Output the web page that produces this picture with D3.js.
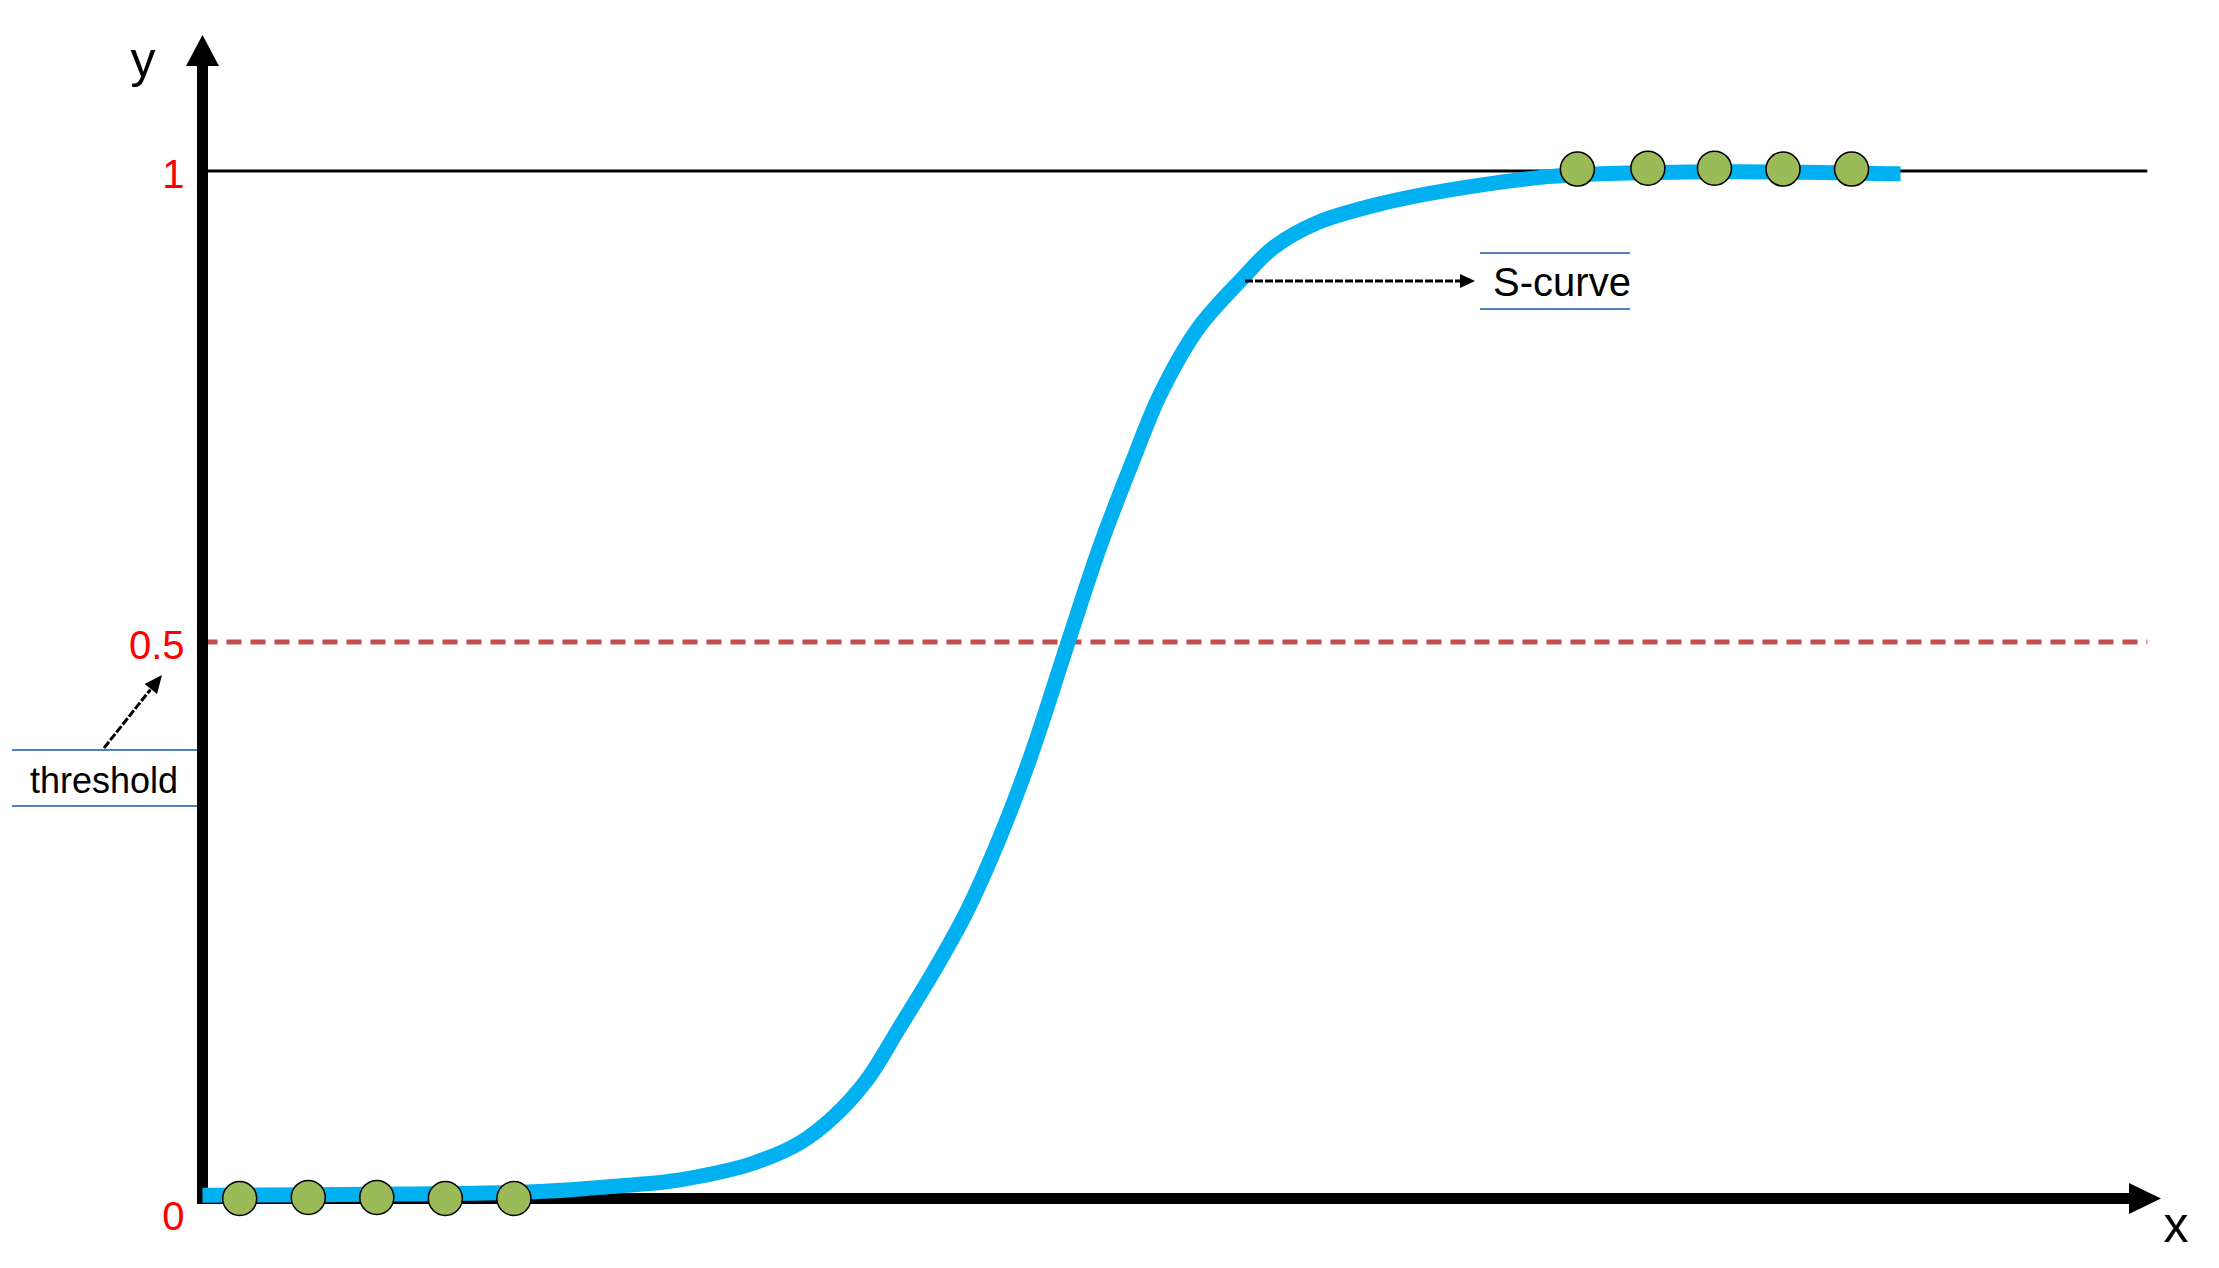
<!DOCTYPE html>
<html>
<head>
<meta charset="utf-8">
<script src="https://cdn.jsdelivr.net/npm/d3@7"></script>
<style>
  body { margin: 0; background: #fff; }
  svg { display: block; font-family: Arial, "Liberation Sans", sans-serif; }
</style>
</head>
<body>
<script>
// data (x in 0..100 along the axis, y in 0..1)
var curveX = [0, 10.1, 16.9, 20.3, 23.7, 25.4, 28.0, 30.5, 32.2, 33.9, 35.6, 37.3, 39.0, 40.7, 42.3, 44.2, 45.8, 47.4,
              48.9, 50.8, 53.1, 54.7, 56.9, 60.3, 63.7, 68.7, 71.4, 75.8, 80.6, 86.0, 86.7];
var curveY = [0.003, 0.004, 0.006, 0.010, 0.015, 0.020, 0.031, 0.050, 0.073, 0.106, 0.154, 0.203, 0.257, 0.324, 0.398, 0.500, 0.600, 0.687,
              0.763, 0.832, 0.886, 0.919, 0.945, 0.966, 0.980, 0.994, 0.997, 0.999, 0.999, 0.997, 0.997];
var lowDotsX = [1.9, 5.4, 8.9, 12.4, 15.9];
var lowDotsY = [0, 0.001, 0.001, 0, 0];
var highDotsX = [70.2, 73.8, 77.2, 80.7, 84.2];
var highDotsY = [1.002, 1.003, 1.003, 1.002, 1.002];
var yTicks = [0, 0.5, 1];
var yTickLabels = ["0", "0.5", "1"];
var thresholdValue = 0.5;
var topValue = 1;

var width = 2219, height = 1268;

var svg = d3.select("body").append("svg")
    .attr("width", width)
    .attr("height", height);

// the picture's 0.5 sits a bit above the middle, so the y scale is piecewise
var x = d3.scaleLinear().domain([0, 100]).range([202.5, 2161]);
var y = d3.scaleLinear().domain([0, 0.5, 1]).range([1198.5, 642, 171]);

var lineEnd = 99.3;   // where the horizontal reference lines stop

// small helper for a filled arrow head at (x2,y2) coming from (x1,y1)
function arrowHead(x1, y1, x2, y2, len, half) {
    var dx = x2 - x1, dy = y2 - y1;
    var d = Math.sqrt(dx * dx + dy * dy);
    var ux = dx / d, uy = dy / d;
    var bx = x2 - ux * len, by = y2 - uy * len;
    return [[x2, y2], [bx - uy * half, by + ux * half], [bx + uy * half, by - ux * half]];
}

// line at y = 1
svg.append("line")
    .attr("x1", x(0)).attr("x2", x(lineEnd))
    .attr("y1", y(topValue)).attr("y2", y(topValue))
    .attr("stroke", "#000").attr("stroke-width", 3);

// threshold line
svg.append("line")
    .attr("x1", x(0)).attr("x2", x(lineEnd))
    .attr("y1", y(thresholdValue)).attr("y2", y(thresholdValue))
    .attr("stroke", "#C0504D").attr("stroke-width", 5)
    .attr("stroke-dasharray", "15,9");

// axes: thick black lines with arrow heads
var axisG = svg.append("g");
axisG.append("line")
    .attr("x1", x(0)).attr("x2", x(0))
    .attr("y1", y(0) + 5).attr("y2", 66)
    .attr("stroke", "#000").attr("stroke-width", 11);
axisG.append("polygon")
    .attr("points", [[x(0) - 16.5, 66], [x(0) + 16.5, 66], [x(0), 35]].join(" "))
    .attr("fill", "#000");
axisG.append("line")
    .attr("x1", x(0) - 5.5).attr("x2", 2129)
    .attr("y1", y(0)).attr("y2", y(0))
    .attr("stroke", "#000").attr("stroke-width", 11);
axisG.append("polygon")
    .attr("points", [[2129, y(0) - 15.5], [2129, y(0) + 15.5], [x(100), y(0)]].join(" "))
    .attr("fill", "#000");

// tick labels
var yAxis = svg.append("g")
    .attr("transform", "translate(" + x(0) + ",0)")
    .call(d3.axisLeft(y).tickValues(yTicks).tickSize(0).tickPadding(18)
        .tickFormat(function(d, i) { return yTickLabels[i]; }));
yAxis.select(".domain").remove();
yAxis.selectAll("text")
    .attr("font-family", "Arial, 'Liberation Sans', sans-serif")
    .attr("font-size", 40)
    .attr("fill", "#FF0000")
    .attr("dy", function(d) { return d === 0 ? "0.77em" : "0.42em"; });

// axis names
svg.append("text")
    .attr("x", 143).attr("y", 77)
    .attr("text-anchor", "middle")
    .attr("font-size", 50)
    .text("y");
svg.append("text")
    .attr("x", 2176).attr("y", 1242)
    .attr("text-anchor", "middle")
    .attr("font-size", 50)
    .text("x");

// the S-curve
var pts = curveX.map(function(d, i) { return [d, curveY[i]]; });
svg.append("path")
    .datum(pts)
    .attr("fill", "none")
    .attr("stroke", "#00B0F0")
    .attr("stroke-width", 15)
    .attr("d", d3.line()
        .x(function(d) { return x(d[0]); })
        .y(function(d) { return y(d[1]); })
        .curve(d3.curveCatmullRom.alpha(0.5)));

// green dots
var dots = lowDotsX.map(function(d, i) { return [d, lowDotsY[i]]; })
    .concat(highDotsX.map(function(d, i) { return [d, highDotsY[i]]; }));
svg.append("g")
    .selectAll("circle")
    .data(dots)
    .enter()
    .append("circle")
    .attr("cx", function(d) { return x(d[0]); })
    .attr("cy", function(d) { return y(d[1]); })
    .attr("r", 17)
    .attr("fill", "#9BBB59")
    .attr("stroke", "#000")
    .attr("stroke-width", 1.5);

// callout: threshold
var th = svg.append("g");
th.append("line").attr("x1", 12).attr("x2", 197).attr("y1", 750).attr("y2", 750)
    .attr("stroke", "#4F81BD").attr("stroke-width", 2);
th.append("line").attr("x1", 12).attr("x2", 197).attr("y1", 806).attr("y2", 806)
    .attr("stroke", "#4F81BD").attr("stroke-width", 2);
th.append("text")
    .attr("x", 104).attr("y", 793)
    .attr("text-anchor", "middle")
    .attr("font-size", 36)
    .text("threshold");
var tA = arrowHead(104, 748, 162, 675, 18, 8);
th.append("line")
    .attr("x1", 104).attr("y1", 748)
    .attr("x2", 104 + (162 - 104) * 0.8).attr("y2", 748 + (675 - 748) * 0.8)
    .attr("stroke", "#000").attr("stroke-width", 3)
    .attr("stroke-dasharray", "8,2");
th.append("polygon").attr("points", tA.join(" ")).attr("fill", "#000");

// callout: S-curve
var sc = svg.append("g");
sc.append("line").attr("x1", 1480).attr("x2", 1630).attr("y1", 253).attr("y2", 253)
    .attr("stroke", "#4F81BD").attr("stroke-width", 2);
sc.append("line").attr("x1", 1480).attr("x2", 1630).attr("y1", 309).attr("y2", 309)
    .attr("stroke", "#4F81BD").attr("stroke-width", 2);
sc.append("text")
    .attr("x", 1562).attr("y", 296)
    .attr("text-anchor", "middle")
    .attr("font-size", 40)
    .text("S-curve");
sc.append("line")
    .attr("x1", 1245).attr("x2", 1462)
    .attr("y1", 281).attr("y2", 281)
    .attr("stroke", "#000").attr("stroke-width", 3)
    .attr("stroke-dasharray", "8,2");
sc.append("polygon").attr("points", arrowHead(1245, 281, 1475, 281, 15, 7).join(" ")).attr("fill", "#000");
</script>
</body>
</html>
